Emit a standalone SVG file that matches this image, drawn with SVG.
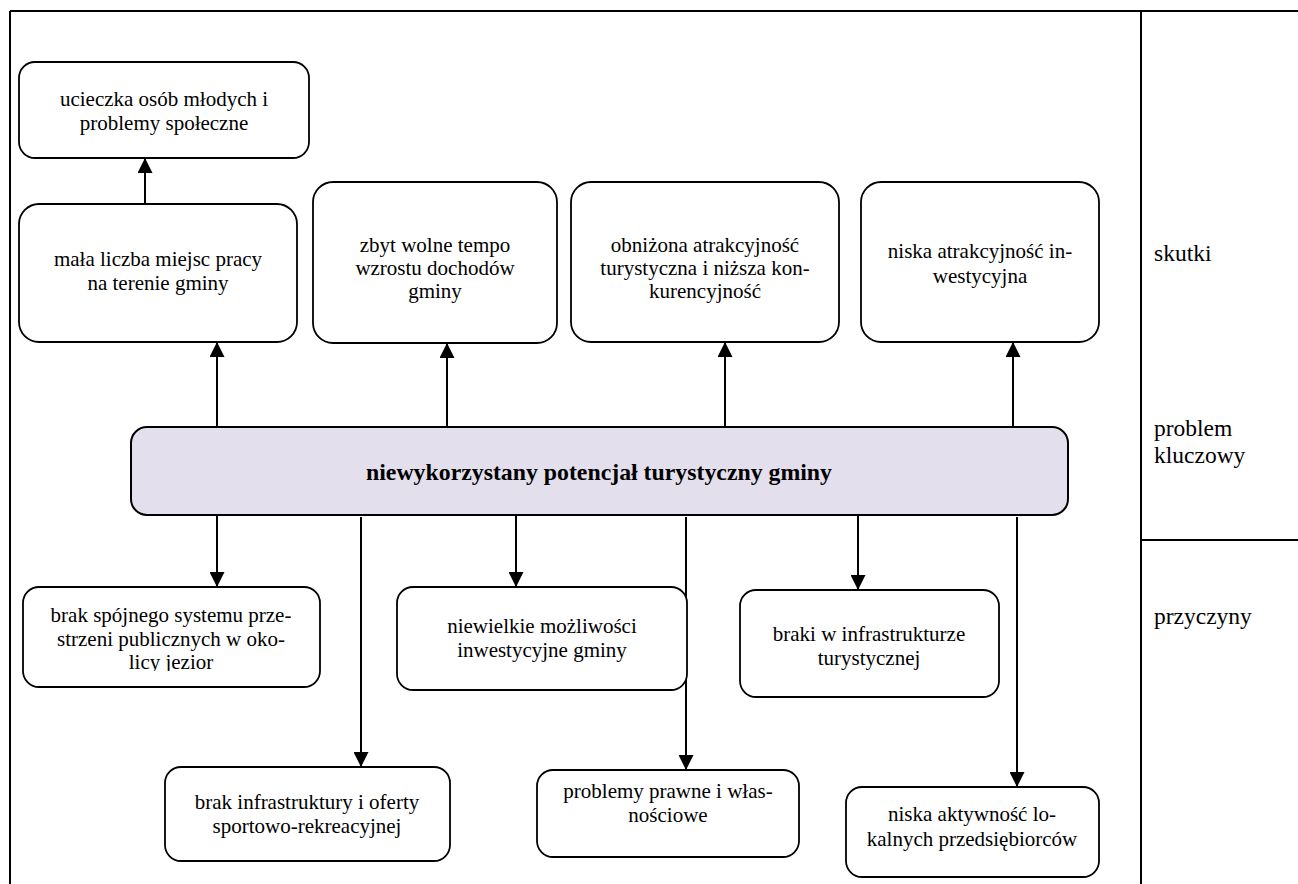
<svg xmlns="http://www.w3.org/2000/svg" width="1298" height="884" viewBox="0 0 1298 884">
<style>
.frame{stroke:#000;stroke-width:2;fill:none}
.box{fill:#fff;stroke:#000;stroke-width:1.8}
.key{fill:#E4DFEC;stroke:#000;stroke-width:2}
.t{font-family:'Liberation Serif','DejaVu Serif',serif;font-size:21px;fill:#000;text-anchor:middle}
.kt{font-family:'Liberation Serif','DejaVu Serif',serif;font-size:23.8px;font-weight:bold;fill:#000;text-anchor:middle}
.lbl{font-family:'Liberation Serif','DejaVu Serif',serif;font-size:23.5px;fill:#000}
.c{stroke:#000;stroke-width:2;fill:none;marker-end:url(#arr)}
</style>
<defs>
<marker id="arr" viewBox="0 0 10 10" markerWidth="15" markerHeight="15" markerUnits="userSpaceOnUse" refX="10" refY="5" orient="auto">
<path d="M0,0 L10,5 L0,10 z" fill="#000"/>
</marker>
<clipPath id="clipJ"><rect x="23" y="587" width="297" height="84"/></clipPath>
</defs>
<rect width="1298" height="884" fill="#fff"/>
<g id="frame">
<line class="frame" x1="10" y1="11" x2="1298" y2="11"/>
<line class="frame" x1="10" y1="11" x2="10" y2="884"/>
<line class="frame" x1="1141" y1="11" x2="1141" y2="884"/>
<line class="frame" x1="1141" y1="540" x2="1298" y2="540"/>
</g>
<g id="labels">
<text class="lbl" x="1154" y="261">skutki</text>
<text class="lbl" x="1154" y="436">problem</text>
<text class="lbl" x="1154" y="463">kluczowy</text>
<text class="lbl" x="1154" y="624">przyczyny</text>
</g>
<g id="connectors">
<line class="c" x1="145" y1="204" x2="145" y2="158"/>
<line class="c" x1="217" y1="427" x2="217" y2="342"/>
<line class="c" x1="447" y1="427" x2="447" y2="343"/>
<line class="c" x1="725" y1="427" x2="725" y2="342"/>
<line class="c" x1="1013" y1="427" x2="1013" y2="342"/>
<line class="c" x1="217" y1="515" x2="217" y2="587"/>
<line class="c" x1="361" y1="517" x2="361" y2="767"/>
<line class="c" x1="516" y1="515" x2="516" y2="587"/>
<line class="c" x1="686" y1="517" x2="686" y2="770"/>
<line class="c" x1="858" y1="515" x2="858" y2="590"/>
<line class="c" x1="1017" y1="517" x2="1017" y2="787"/>
</g>
<g id="n-ucieczka">
<rect class="box" x="19" y="62" width="290" height="96" rx="16"/>
<text class="t" x="164" y="106">ucieczka osób młodych i</text>
<text class="t" x="164" y="130">problemy społeczne</text>
</g>
<g id="n-mala-liczba">
<rect class="box" x="19" y="204" width="278" height="138" rx="20"/>
<text class="t" x="158" y="266">mała liczba miejsc pracy</text>
<text class="t" x="158" y="290">na terenie gminy</text>
</g>
<g id="n-zbyt-wolne">
<rect class="box" x="313" y="182" width="244" height="161" rx="20"/>
<text class="t" x="435" y="252">zbyt wolne tempo</text>
<text class="t" x="435" y="275">wzrostu dochodów</text>
<text class="t" x="435" y="298">gminy</text>
</g>
<g id="n-obnizona">
<rect class="box" x="571" y="182" width="268" height="160" rx="20"/>
<text class="t" x="705" y="252">obniżona atrakcyjność</text>
<text class="t" x="705" y="275">turystyczna i niższa kon-</text>
<text class="t" x="705" y="298">kurencyjność</text>
</g>
<g id="n-niska-atr">
<rect class="box" x="861" y="182" width="238" height="160" rx="20"/>
<text class="t" x="980" y="258">niska atrakcyjność in-</text>
<text class="t" x="980" y="283">westycyjna</text>
</g>
<g id="n-key">
<rect class="key" x="131" y="427" width="937" height="88" rx="16"/>
<text class="kt" x="599" y="480">niewykorzystany potencjał turystyczny gminy</text>
</g>
<g id="n-brak-spojnego">
<rect class="box" x="23" y="587" width="297" height="100" rx="16"/>
<text class="t" x="171" y="622">brak spójnego systemu prze-</text>
<text class="t" x="171" y="646">strzeni publicznych w oko-</text>
<text class="t" x="171" y="669" clip-path="url(#clipJ)">licy jezior</text>
</g>
<g id="n-niewielkie">
<rect class="box" x="397" y="587" width="290" height="103" rx="16"/>
<text class="t" x="542" y="633">niewielkie możliwości</text>
<text class="t" x="542" y="657">inwestycyjne gminy</text>
</g>
<g id="n-braki">
<rect class="box" x="740" y="590" width="259" height="107" rx="16"/>
<text class="t" x="869" y="641">braki w infrastrukturze</text>
<text class="t" x="869" y="665">turystycznej</text>
</g>
<g id="n-brak-infra">
<rect class="box" x="165" y="767" width="285" height="94" rx="16"/>
<text class="t" x="307" y="809">brak infrastruktury i oferty</text>
<text class="t" x="307" y="833">sportowo-rekreacyjnej</text>
</g>
<g id="n-problemy-prawne">
<rect class="box" x="537" y="770" width="262" height="87" rx="16"/>
<text class="t" x="668" y="798">problemy prawne i włas-</text>
<text class="t" x="668" y="822">nościowe</text>
</g>
<g id="n-niska-akt">
<rect class="box" x="846" y="787" width="253" height="90" rx="16"/>
<text class="t" x="972" y="821">niska aktywność lo-</text>
<text class="t" x="972" y="846">kalnych przedsiębiorców</text>
</g>
</svg>
